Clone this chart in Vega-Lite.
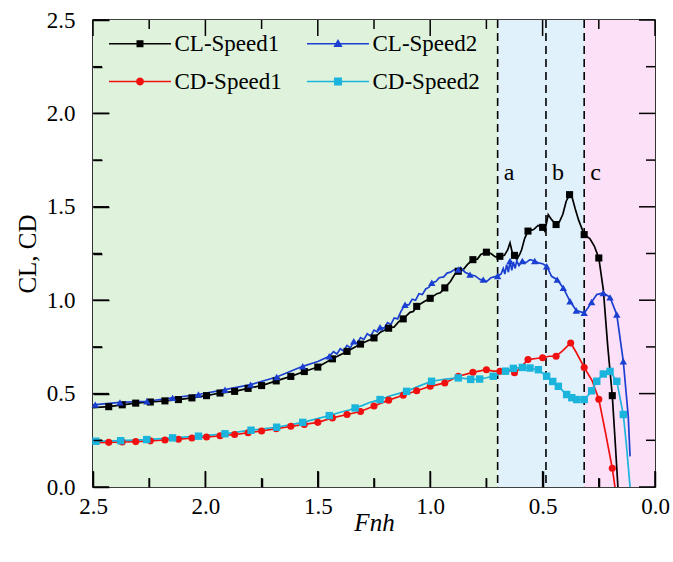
{
  "$schema": "https://vega.github.io/schema/vega-lite/v6.json",
  "width": 562,
  "height": 467,
  "autosize": {"type": "none"},
  "padding": {"left": 93, "top": 20, "right": 18, "bottom": 75},
  "background": "white",
  "config": {
    "view": {"stroke": "#000", "strokeWidth": 1.6},
    "font": "Liberation Serif",
    "axis": {"labelFont": "Liberation Serif", "titleFont": "Liberation Serif", "zindex": 2},
    "legend": {"labelFont": "Liberation Serif"},
    "style": {"guide-label": {"font": "Liberation Serif"}, "guide-title": {"font": "Liberation Serif"}}
  },
  "datasets": {
    "zones": [
      {"from": 2.5, "to": 0.70, "zone": "I"},
      {"from": 0.70, "to": 0.315, "zone": "II"},
      {"from": 0.315, "to": 0.0, "zone": "III"}
    ],
    "bounds": [
      {"x": 0.70, "label": "a"},
      {"x": 0.485, "label": "b"},
      {"x": 0.315, "label": "c"}
    ],
    "ticksMajor": [{"v": 0}, {"v": 0.5}, {"v": 1}, {"v": 1.5}, {"v": 2}, {"v": 2.5}],
    "ticksMinor": [{"v": 0.25}, {"v": 0.75}, {"v": 1.25}, {"v": 1.75}, {"v": 2.25}],
    "curves": [
      {"s":"CL-Speed1","x":2.5,"y":0.425},{"s":"CL-Speed1","x":2.43,"y":0.43},{"s":"CL-Speed1","x":2.37,"y":0.44},{"s":"CL-Speed1","x":2.31,"y":0.449},{"s":"CL-Speed1","x":2.245,"y":0.455},{"s":"CL-Speed1","x":2.18,"y":0.461},{"s":"CL-Speed1","x":2.12,"y":0.468},{"s":"CL-Speed1","x":2.06,"y":0.477},{"s":"CL-Speed1","x":1.995,"y":0.489},{"s":"CL-Speed1","x":1.935,"y":0.503},{"s":"CL-Speed1","x":1.87,"y":0.512},{"s":"CL-Speed1","x":1.81,"y":0.528},{"s":"CL-Speed1","x":1.75,"y":0.543},{"s":"CL-Speed1","x":1.685,"y":0.568},{"s":"CL-Speed1","x":1.62,"y":0.592},{"s":"CL-Speed1","x":1.56,"y":0.618},{"s":"CL-Speed1","x":1.5,"y":0.642},{"s":"CL-Speed1","x":1.435,"y":0.686},{"s":"CL-Speed1","x":1.37,"y":0.726},{"s":"CL-Speed1","x":1.31,"y":0.765},{"s":"CL-Speed1","x":1.25,"y":0.798},{"s":"CL-Speed1","x":1.22,"y":0.83},{"s":"CL-Speed1","x":1.185,"y":0.85},{"s":"CL-Speed1","x":1.16,"y":0.857},{"s":"CL-Speed1","x":1.14,"y":0.885},{"s":"CL-Speed1","x":1.12,"y":0.9},{"s":"CL-Speed1","x":1.09,"y":0.935},{"s":"CL-Speed1","x":1.075,"y":0.94},{"s":"CL-Speed1","x":1.06,"y":0.967},{"s":"CL-Speed1","x":1.03,"y":0.99},{"s":"CL-Speed1","x":1.0,"y":1.01},{"s":"CL-Speed1","x":0.97,"y":1.035},{"s":"CL-Speed1","x":0.955,"y":1.04},{"s":"CL-Speed1","x":0.935,"y":1.066},{"s":"CL-Speed1","x":0.91,"y":1.1},{"s":"CL-Speed1","x":0.89,"y":1.14},{"s":"CL-Speed1","x":0.875,"y":1.155},{"s":"CL-Speed1","x":0.855,"y":1.16},{"s":"CL-Speed1","x":0.835,"y":1.19},{"s":"CL-Speed1","x":0.81,"y":1.217},{"s":"CL-Speed1","x":0.79,"y":1.22},{"s":"CL-Speed1","x":0.775,"y":1.245},{"s":"CL-Speed1","x":0.75,"y":1.257},{"s":"CL-Speed1","x":0.73,"y":1.25},{"s":"CL-Speed1","x":0.71,"y":1.232},{"s":"CL-Speed1","x":0.69,"y":1.235},{"s":"CL-Speed1","x":0.67,"y":1.24},{"s":"CL-Speed1","x":0.655,"y":1.27},{"s":"CL-Speed1","x":0.645,"y":1.307},{"s":"CL-Speed1","x":0.635,"y":1.255},{"s":"CL-Speed1","x":0.625,"y":1.24},{"s":"CL-Speed1","x":0.615,"y":1.217},{"s":"CL-Speed1","x":0.6,"y":1.25},{"s":"CL-Speed1","x":0.593,"y":1.271},{"s":"CL-Speed1","x":0.58,"y":1.33},{"s":"CL-Speed1","x":0.565,"y":1.37},{"s":"CL-Speed1","x":0.54,"y":1.378},{"s":"CL-Speed1","x":0.52,"y":1.4},{"s":"CL-Speed1","x":0.5,"y":1.39},{"s":"CL-Speed1","x":0.49,"y":1.37},{"s":"CL-Speed1","x":0.475,"y":1.458},{"s":"CL-Speed1","x":0.46,"y":1.431},{"s":"CL-Speed1","x":0.44,"y":1.405},{"s":"CL-Speed1","x":0.425,"y":1.42},{"s":"CL-Speed1","x":0.41,"y":1.46},{"s":"CL-Speed1","x":0.395,"y":1.53},{"s":"CL-Speed1","x":0.38,"y":1.565},{"s":"CL-Speed1","x":0.37,"y":1.556},{"s":"CL-Speed1","x":0.355,"y":1.49},{"s":"CL-Speed1","x":0.34,"y":1.43},{"s":"CL-Speed1","x":0.315,"y":1.351},{"s":"CL-Speed1","x":0.29,"y":1.33},{"s":"CL-Speed1","x":0.27,"y":1.29},{"s":"CL-Speed1","x":0.25,"y":1.226},{"s":"CL-Speed1","x":0.23,"y":1.057},{"s":"CL-Speed1","x":0.21,"y":0.75},{"s":"CL-Speed1","x":0.19,"y":0.489},{"s":"CL-Speed1","x":0.178,"y":0.26},{"s":"CL-Speed1","x":0.165,"y":0.0},
      {"s":"CL-Speed2","x":2.5,"y":0.44},{"s":"CL-Speed2","x":2.38,"y":0.453},{"s":"CL-Speed2","x":2.26,"y":0.459},{"s":"CL-Speed2","x":2.146,"y":0.477},{"s":"CL-Speed2","x":2.031,"y":0.495},{"s":"CL-Speed2","x":1.913,"y":0.521},{"s":"CL-Speed2","x":1.799,"y":0.548},{"s":"CL-Speed2","x":1.683,"y":0.589},{"s":"CL-Speed2","x":1.567,"y":0.646},{"s":"CL-Speed2","x":1.5,"y":0.672},{"s":"CL-Speed2","x":1.449,"y":0.7},{"s":"CL-Speed2","x":1.43,"y":0.725},{"s":"CL-Speed2","x":1.415,"y":0.712},{"s":"CL-Speed2","x":1.4,"y":0.74},{"s":"CL-Speed2","x":1.385,"y":0.728},{"s":"CL-Speed2","x":1.37,"y":0.758},{"s":"CL-Speed2","x":1.355,"y":0.745},{"s":"CL-Speed2","x":1.34,"y":0.78},{"s":"CL-Speed2","x":1.325,"y":0.768},{"s":"CL-Speed2","x":1.31,"y":0.8},{"s":"CL-Speed2","x":1.295,"y":0.79},{"s":"CL-Speed2","x":1.28,"y":0.82},{"s":"CL-Speed2","x":1.265,"y":0.808},{"s":"CL-Speed2","x":1.25,"y":0.84},{"s":"CL-Speed2","x":1.235,"y":0.83},{"s":"CL-Speed2","x":1.223,"y":0.855},{"s":"CL-Speed2","x":1.205,"y":0.85},{"s":"CL-Speed2","x":1.19,"y":0.88},{"s":"CL-Speed2","x":1.175,"y":0.87},{"s":"CL-Speed2","x":1.16,"y":0.905},{"s":"CL-Speed2","x":1.145,"y":0.9},{"s":"CL-Speed2","x":1.13,"y":0.94},{"s":"CL-Speed2","x":1.112,"y":0.976},{"s":"CL-Speed2","x":1.095,"y":0.975},{"s":"CL-Speed2","x":1.08,"y":1.005},{"s":"CL-Speed2","x":1.065,"y":1.0},{"s":"CL-Speed2","x":1.05,"y":1.035},{"s":"CL-Speed2","x":1.035,"y":1.03},{"s":"CL-Speed2","x":1.02,"y":1.06},{"s":"CL-Speed2","x":1.005,"y":1.07},{"s":"CL-Speed2","x":0.993,"y":1.093},{"s":"CL-Speed2","x":0.975,"y":1.1},{"s":"CL-Speed2","x":0.96,"y":1.12},{"s":"CL-Speed2","x":0.94,"y":1.125},{"s":"CL-Speed2","x":0.925,"y":1.145},{"s":"CL-Speed2","x":0.91,"y":1.15},{"s":"CL-Speed2","x":0.89,"y":1.165},{"s":"CL-Speed2","x":0.875,"y":1.164},{"s":"CL-Speed2","x":0.865,"y":1.175},{"s":"CL-Speed2","x":0.845,"y":1.15},{"s":"CL-Speed2","x":0.823,"y":1.137},{"s":"CL-Speed2","x":0.8,"y":1.13},{"s":"CL-Speed2","x":0.778,"y":1.11},{"s":"CL-Speed2","x":0.764,"y":1.11},{"s":"CL-Speed2","x":0.749,"y":1.1},{"s":"CL-Speed2","x":0.73,"y":1.12},{"s":"CL-Speed2","x":0.715,"y":1.125},{"s":"CL-Speed2","x":0.7,"y":1.13},{"s":"CL-Speed2","x":0.685,"y":1.14},{"s":"CL-Speed2","x":0.675,"y":1.17},{"s":"CL-Speed2","x":0.668,"y":1.14},{"s":"CL-Speed2","x":0.66,"y":1.19},{"s":"CL-Speed2","x":0.652,"y":1.15},{"s":"CL-Speed2","x":0.645,"y":1.21},{"s":"CL-Speed2","x":0.637,"y":1.16},{"s":"CL-Speed2","x":0.63,"y":1.205},{"s":"CL-Speed2","x":0.622,"y":1.17},{"s":"CL-Speed2","x":0.615,"y":1.21},{"s":"CL-Speed2","x":0.605,"y":1.185},{"s":"CL-Speed2","x":0.59,"y":1.21},{"s":"CL-Speed2","x":0.575,"y":1.2},{"s":"CL-Speed2","x":0.556,"y":1.217},{"s":"CL-Speed2","x":0.535,"y":1.21},{"s":"CL-Speed2","x":0.519,"y":1.2},{"s":"CL-Speed2","x":0.5,"y":1.195},{"s":"CL-Speed2","x":0.482,"y":1.182},{"s":"CL-Speed2","x":0.46,"y":1.128},{"s":"CL-Speed2","x":0.435,"y":1.11},{"s":"CL-Speed2","x":0.408,"y":1.066},{"s":"CL-Speed2","x":0.378,"y":0.994},{"s":"CL-Speed2","x":0.35,"y":0.945},{"s":"CL-Speed2","x":0.315,"y":0.932},{"s":"CL-Speed2","x":0.298,"y":0.96},{"s":"CL-Speed2","x":0.282,"y":0.99},{"s":"CL-Speed2","x":0.259,"y":1.03},{"s":"CL-Speed2","x":0.23,"y":1.039},{"s":"CL-Speed2","x":0.2,"y":1.015},{"s":"CL-Speed2","x":0.17,"y":0.923},{"s":"CL-Speed2","x":0.141,"y":0.673},{"s":"CL-Speed2","x":0.119,"y":0.378},{"s":"CL-Speed2","x":0.111,"y":0.164},
      {"s":"CD-Speed1","x":2.5,"y":0.238},{"s":"CD-Speed1","x":2.43,"y":0.239},{"s":"CD-Speed1","x":2.37,"y":0.241},{"s":"CD-Speed1","x":2.31,"y":0.243},{"s":"CD-Speed1","x":2.245,"y":0.247},{"s":"CD-Speed1","x":2.18,"y":0.252},{"s":"CD-Speed1","x":2.12,"y":0.256},{"s":"CD-Speed1","x":2.06,"y":0.262},{"s":"CD-Speed1","x":1.995,"y":0.268},{"s":"CD-Speed1","x":1.935,"y":0.274},{"s":"CD-Speed1","x":1.87,"y":0.281},{"s":"CD-Speed1","x":1.81,"y":0.29},{"s":"CD-Speed1","x":1.75,"y":0.3},{"s":"CD-Speed1","x":1.685,"y":0.312},{"s":"CD-Speed1","x":1.62,"y":0.325},{"s":"CD-Speed1","x":1.56,"y":0.335},{"s":"CD-Speed1","x":1.5,"y":0.346},{"s":"CD-Speed1","x":1.435,"y":0.37},{"s":"CD-Speed1","x":1.37,"y":0.388},{"s":"CD-Speed1","x":1.31,"y":0.404},{"s":"CD-Speed1","x":1.25,"y":0.434},{"s":"CD-Speed1","x":1.185,"y":0.465},{"s":"CD-Speed1","x":1.12,"y":0.491},{"s":"CD-Speed1","x":1.06,"y":0.515},{"s":"CD-Speed1","x":1.0,"y":0.539},{"s":"CD-Speed1","x":0.935,"y":0.557},{"s":"CD-Speed1","x":0.875,"y":0.593},{"s":"CD-Speed1","x":0.81,"y":0.614},{"s":"CD-Speed1","x":0.75,"y":0.628},{"s":"CD-Speed1","x":0.72,"y":0.62},{"s":"CD-Speed1","x":0.69,"y":0.62},{"s":"CD-Speed1","x":0.66,"y":0.625},{"s":"CD-Speed1","x":0.64,"y":0.62},{"s":"CD-Speed1","x":0.625,"y":0.612},{"s":"CD-Speed1","x":0.61,"y":0.625},{"s":"CD-Speed1","x":0.59,"y":0.65},{"s":"CD-Speed1","x":0.565,"y":0.682},{"s":"CD-Speed1","x":0.53,"y":0.688},{"s":"CD-Speed1","x":0.5,"y":0.692},{"s":"CD-Speed1","x":0.47,"y":0.7},{"s":"CD-Speed1","x":0.44,"y":0.7},{"s":"CD-Speed1","x":0.41,"y":0.73},{"s":"CD-Speed1","x":0.375,"y":0.771},{"s":"CD-Speed1","x":0.35,"y":0.72},{"s":"CD-Speed1","x":0.315,"y":0.64},{"s":"CD-Speed1","x":0.28,"y":0.57},{"s":"CD-Speed1","x":0.25,"y":0.47},{"s":"CD-Speed1","x":0.22,"y":0.29},{"s":"CD-Speed1","x":0.19,"y":0.1},{"s":"CD-Speed1","x":0.178,"y":0.0},
      {"s":"CD-Speed2","x":2.5,"y":0.245},{"s":"CD-Speed2","x":2.487,"y":0.245},{"s":"CD-Speed2","x":2.377,"y":0.248},{"s":"CD-Speed2","x":2.261,"y":0.254},{"s":"CD-Speed2","x":2.146,"y":0.263},{"s":"CD-Speed2","x":2.031,"y":0.272},{"s":"CD-Speed2","x":1.913,"y":0.285},{"s":"CD-Speed2","x":1.797,"y":0.304},{"s":"CD-Speed2","x":1.683,"y":0.32},{"s":"CD-Speed2","x":1.567,"y":0.346},{"s":"CD-Speed2","x":1.449,"y":0.382},{"s":"CD-Speed2","x":1.4,"y":0.4},{"s":"CD-Speed2","x":1.36,"y":0.412},{"s":"CD-Speed2","x":1.334,"y":0.423},{"s":"CD-Speed2","x":1.3,"y":0.437},{"s":"CD-Speed2","x":1.27,"y":0.452},{"s":"CD-Speed2","x":1.223,"y":0.468},{"s":"CD-Speed2","x":1.18,"y":0.487},{"s":"CD-Speed2","x":1.15,"y":0.497},{"s":"CD-Speed2","x":1.105,"y":0.512},{"s":"CD-Speed2","x":1.05,"y":0.54},{"s":"CD-Speed2","x":0.994,"y":0.566},{"s":"CD-Speed2","x":0.93,"y":0.578},{"s":"CD-Speed2","x":0.875,"y":0.584},{"s":"CD-Speed2","x":0.84,"y":0.58},{"s":"CD-Speed2","x":0.82,"y":0.576},{"s":"CD-Speed2","x":0.78,"y":0.578},{"s":"CD-Speed2","x":0.75,"y":0.585},{"s":"CD-Speed2","x":0.72,"y":0.593},{"s":"CD-Speed2","x":0.7,"y":0.6},{"s":"CD-Speed2","x":0.665,"y":0.62},{"s":"CD-Speed2","x":0.63,"y":0.635},{"s":"CD-Speed2","x":0.59,"y":0.64},{"s":"CD-Speed2","x":0.556,"y":0.637},{"s":"CD-Speed2","x":0.519,"y":0.628},{"s":"CD-Speed2","x":0.482,"y":0.593},{"s":"CD-Speed2","x":0.455,"y":0.565},{"s":"CD-Speed2","x":0.43,"y":0.539},{"s":"CD-Speed2","x":0.41,"y":0.515},{"s":"CD-Speed2","x":0.393,"y":0.495},{"s":"CD-Speed2","x":0.37,"y":0.478},{"s":"CD-Speed2","x":0.348,"y":0.468},{"s":"CD-Speed2","x":0.315,"y":0.468},{"s":"CD-Speed2","x":0.298,"y":0.49},{"s":"CD-Speed2","x":0.282,"y":0.515},{"s":"CD-Speed2","x":0.259,"y":0.566},{"s":"CD-Speed2","x":0.23,"y":0.605},{"s":"CD-Speed2","x":0.2,"y":0.619},{"s":"CD-Speed2","x":0.17,"y":0.566},{"s":"CD-Speed2","x":0.141,"y":0.388},{"s":"CD-Speed2","x":0.126,"y":0.21},{"s":"CD-Speed2","x":0.111,"y":0.0}
    ],
    "markers": [
      {"s":"CL-Speed1","x":2.43,"y":0.43},{"s":"CL-Speed1","x":2.37,"y":0.44},{"s":"CL-Speed1","x":2.31,"y":0.449},{"s":"CL-Speed1","x":2.245,"y":0.455},{"s":"CL-Speed1","x":2.18,"y":0.461},{"s":"CL-Speed1","x":2.12,"y":0.468},{"s":"CL-Speed1","x":2.06,"y":0.477},{"s":"CL-Speed1","x":1.995,"y":0.489},{"s":"CL-Speed1","x":1.935,"y":0.503},{"s":"CL-Speed1","x":1.87,"y":0.512},{"s":"CL-Speed1","x":1.81,"y":0.528},{"s":"CL-Speed1","x":1.75,"y":0.543},{"s":"CL-Speed1","x":1.685,"y":0.568},{"s":"CL-Speed1","x":1.62,"y":0.592},{"s":"CL-Speed1","x":1.56,"y":0.618},{"s":"CL-Speed1","x":1.5,"y":0.642},{"s":"CL-Speed1","x":1.435,"y":0.686},{"s":"CL-Speed1","x":1.37,"y":0.726},{"s":"CL-Speed1","x":1.31,"y":0.765},{"s":"CL-Speed1","x":1.25,"y":0.798},{"s":"CL-Speed1","x":1.185,"y":0.85},{"s":"CL-Speed1","x":1.12,"y":0.9},{"s":"CL-Speed1","x":1.06,"y":0.967},{"s":"CL-Speed1","x":1.0,"y":1.01},{"s":"CL-Speed1","x":0.935,"y":1.066},{"s":"CL-Speed1","x":0.875,"y":1.155},{"s":"CL-Speed1","x":0.81,"y":1.217},{"s":"CL-Speed1","x":0.75,"y":1.257},{"s":"CL-Speed1","x":0.69,"y":1.235},{"s":"CL-Speed1","x":0.625,"y":1.24},{"s":"CL-Speed1","x":0.565,"y":1.37},{"s":"CL-Speed1","x":0.5,"y":1.39},{"s":"CL-Speed1","x":0.44,"y":1.405},{"s":"CL-Speed1","x":0.38,"y":1.565},{"s":"CL-Speed1","x":0.315,"y":1.351},{"s":"CL-Speed1","x":0.25,"y":1.226},{"s":"CL-Speed1","x":0.19,"y":0.489},
      {"s":"CL-Speed2","x":2.49,"y":0.441},{"s":"CL-Speed2","x":2.38,"y":0.453},{"s":"CL-Speed2","x":2.26,"y":0.459},{"s":"CL-Speed2","x":2.146,"y":0.477},{"s":"CL-Speed2","x":2.031,"y":0.495},{"s":"CL-Speed2","x":1.913,"y":0.521},{"s":"CL-Speed2","x":1.799,"y":0.548},{"s":"CL-Speed2","x":1.683,"y":0.589},{"s":"CL-Speed2","x":1.567,"y":0.646},{"s":"CL-Speed2","x":1.449,"y":0.7},{"s":"CL-Speed2","x":1.34,"y":0.78},{"s":"CL-Speed2","x":1.223,"y":0.855},{"s":"CL-Speed2","x":1.112,"y":0.976},{"s":"CL-Speed2","x":0.993,"y":1.093},{"s":"CL-Speed2","x":0.875,"y":1.164},{"s":"CL-Speed2","x":0.823,"y":1.137},{"s":"CL-Speed2","x":0.764,"y":1.11},{"s":"CL-Speed2","x":0.7,"y":1.13},{"s":"CL-Speed2","x":0.645,"y":1.21},{"s":"CL-Speed2","x":0.59,"y":1.21},{"s":"CL-Speed2","x":0.535,"y":1.21},{"s":"CL-Speed2","x":0.482,"y":1.182},{"s":"CL-Speed2","x":0.435,"y":1.11},{"s":"CL-Speed2","x":0.408,"y":1.066},{"s":"CL-Speed2","x":0.378,"y":0.994},{"s":"CL-Speed2","x":0.35,"y":0.945},{"s":"CL-Speed2","x":0.315,"y":0.932},{"s":"CL-Speed2","x":0.282,"y":0.99},{"s":"CL-Speed2","x":0.23,"y":1.039},{"s":"CL-Speed2","x":0.2,"y":1.015},{"s":"CL-Speed2","x":0.17,"y":0.923},{"s":"CL-Speed2","x":0.141,"y":0.673},
      {"s":"CD-Speed1","x":2.43,"y":0.239},{"s":"CD-Speed1","x":2.37,"y":0.241},{"s":"CD-Speed1","x":2.31,"y":0.243},{"s":"CD-Speed1","x":2.245,"y":0.247},{"s":"CD-Speed1","x":2.18,"y":0.252},{"s":"CD-Speed1","x":2.12,"y":0.256},{"s":"CD-Speed1","x":2.06,"y":0.262},{"s":"CD-Speed1","x":1.995,"y":0.268},{"s":"CD-Speed1","x":1.935,"y":0.274},{"s":"CD-Speed1","x":1.87,"y":0.281},{"s":"CD-Speed1","x":1.81,"y":0.29},{"s":"CD-Speed1","x":1.75,"y":0.3},{"s":"CD-Speed1","x":1.685,"y":0.312},{"s":"CD-Speed1","x":1.62,"y":0.325},{"s":"CD-Speed1","x":1.56,"y":0.335},{"s":"CD-Speed1","x":1.5,"y":0.346},{"s":"CD-Speed1","x":1.435,"y":0.37},{"s":"CD-Speed1","x":1.37,"y":0.388},{"s":"CD-Speed1","x":1.31,"y":0.404},{"s":"CD-Speed1","x":1.25,"y":0.434},{"s":"CD-Speed1","x":1.185,"y":0.465},{"s":"CD-Speed1","x":1.12,"y":0.491},{"s":"CD-Speed1","x":1.06,"y":0.515},{"s":"CD-Speed1","x":1.0,"y":0.539},{"s":"CD-Speed1","x":0.935,"y":0.557},{"s":"CD-Speed1","x":0.875,"y":0.593},{"s":"CD-Speed1","x":0.81,"y":0.614},{"s":"CD-Speed1","x":0.75,"y":0.628},{"s":"CD-Speed1","x":0.69,"y":0.62},{"s":"CD-Speed1","x":0.625,"y":0.612},{"s":"CD-Speed1","x":0.565,"y":0.682},{"s":"CD-Speed1","x":0.5,"y":0.692},{"s":"CD-Speed1","x":0.44,"y":0.7},{"s":"CD-Speed1","x":0.375,"y":0.771},{"s":"CD-Speed1","x":0.315,"y":0.64},{"s":"CD-Speed1","x":0.25,"y":0.47},{"s":"CD-Speed1","x":0.19,"y":0.1},
      {"s":"CD-Speed2","x":2.487,"y":0.245},{"s":"CD-Speed2","x":2.377,"y":0.248},{"s":"CD-Speed2","x":2.261,"y":0.254},{"s":"CD-Speed2","x":2.146,"y":0.263},{"s":"CD-Speed2","x":2.031,"y":0.272},{"s":"CD-Speed2","x":1.913,"y":0.285},{"s":"CD-Speed2","x":1.797,"y":0.304},{"s":"CD-Speed2","x":1.683,"y":0.32},{"s":"CD-Speed2","x":1.567,"y":0.346},{"s":"CD-Speed2","x":1.449,"y":0.382},{"s":"CD-Speed2","x":1.334,"y":0.423},{"s":"CD-Speed2","x":1.223,"y":0.468},{"s":"CD-Speed2","x":1.105,"y":0.512},{"s":"CD-Speed2","x":0.994,"y":0.566},{"s":"CD-Speed2","x":0.875,"y":0.584},{"s":"CD-Speed2","x":0.82,"y":0.576},{"s":"CD-Speed2","x":0.78,"y":0.578},{"s":"CD-Speed2","x":0.72,"y":0.593},{"s":"CD-Speed2","x":0.665,"y":0.62},{"s":"CD-Speed2","x":0.63,"y":0.635},{"s":"CD-Speed2","x":0.59,"y":0.64},{"s":"CD-Speed2","x":0.556,"y":0.637},{"s":"CD-Speed2","x":0.519,"y":0.628},{"s":"CD-Speed2","x":0.482,"y":0.593},{"s":"CD-Speed2","x":0.455,"y":0.565},{"s":"CD-Speed2","x":0.43,"y":0.539},{"s":"CD-Speed2","x":0.393,"y":0.495},{"s":"CD-Speed2","x":0.37,"y":0.478},{"s":"CD-Speed2","x":0.348,"y":0.468},{"s":"CD-Speed2","x":0.315,"y":0.468},{"s":"CD-Speed2","x":0.282,"y":0.515},{"s":"CD-Speed2","x":0.259,"y":0.566},{"s":"CD-Speed2","x":0.23,"y":0.605},{"s":"CD-Speed2","x":0.2,"y":0.619},{"s":"CD-Speed2","x":0.17,"y":0.566},{"s":"CD-Speed2","x":0.141,"y":0.388}
    ]
  },
  "resolve": {"axis": {"x": "independent", "y": "independent"}},
  "layer": [
    {
      "data": {"name": "zones"},
      "mark": {"type": "rect"},
      "encoding": {
        "x": {"field": "from", "type": "quantitative",
          "scale": {"domain": [0, 2.5], "reverse": true, "nice": false, "zero": false}, "axis": null},
        "x2": {"field": "to"},
        "y": {"datum": 0, "type": "quantitative",
          "scale": {"domain": [0, 2.5], "nice": false, "zero": false}, "axis": null},
        "y2": {"datum": 2.5},
        "fill": {"field": "zone", "type": "nominal",
          "scale": {"domain": ["I", "II", "III"], "range": ["#dff3dc", "#e0f1fb", "#fce0f8"]}, "legend": null}
      }
    },
    {"data": {"name": "ticksMajor"}, "mark": {"type": "rule", "color": "black", "strokeWidth": 1.5},
     "encoding": {"x": {"field": "v", "type": "quantitative", "axis": null}, "y": {"datum": 0, "type": "quantitative", "axis": null}, "y2": {"datum": 0.0857}}},
    {"data": {"name": "ticksMinor"}, "mark": {"type": "rule", "color": "black", "strokeWidth": 1.5},
     "encoding": {"x": {"field": "v", "type": "quantitative", "axis": null}, "y": {"datum": 0, "type": "quantitative", "axis": null}, "y2": {"datum": 0.0482}}},
    {"data": {"name": "ticksMajor"}, "mark": {"type": "rule", "color": "black", "strokeWidth": 1.5},
     "encoding": {"x": {"field": "v", "type": "quantitative", "axis": null}, "y": {"datum": 2.5, "type": "quantitative", "axis": null}, "y2": {"datum": 2.4143}}},
    {"data": {"name": "ticksMinor"}, "mark": {"type": "rule", "color": "black", "strokeWidth": 1.5},
     "encoding": {"x": {"field": "v", "type": "quantitative", "axis": null}, "y": {"datum": 2.5, "type": "quantitative", "axis": null}, "y2": {"datum": 2.4518}}},
    {"data": {"name": "ticksMajor"}, "mark": {"type": "rule", "color": "black", "strokeWidth": 1.5},
     "encoding": {"y": {"field": "v", "type": "quantitative", "axis": null}, "x": {"datum": 2.5, "type": "quantitative", "axis": null}, "x2": {"datum": 2.4288}}},
    {"data": {"name": "ticksMinor"}, "mark": {"type": "rule", "color": "black", "strokeWidth": 1.5},
     "encoding": {"y": {"field": "v", "type": "quantitative", "axis": null}, "x": {"datum": 2.5, "type": "quantitative", "axis": null}, "x2": {"datum": 2.46}}},
    {"data": {"name": "ticksMajor"}, "mark": {"type": "rule", "color": "black", "strokeWidth": 1.5},
     "encoding": {"y": {"field": "v", "type": "quantitative", "axis": null}, "x": {"datum": 0, "type": "quantitative", "axis": null}, "x2": {"datum": 0.0712}}},
    {"data": {"name": "ticksMinor"}, "mark": {"type": "rule", "color": "black", "strokeWidth": 1.5},
     "encoding": {"y": {"field": "v", "type": "quantitative", "axis": null}, "x": {"datum": 0, "type": "quantitative", "axis": null}, "x2": {"datum": 0.04}}},
    {
      "data": {"name": "bounds"},
      "mark": {"type": "rule", "strokeDash": [8, 5], "strokeWidth": 1.6, "color": "black"},
      "encoding": {
        "x": {"field": "x", "type": "quantitative",
          "axis": {"orient": "bottom", "title": "Fnh", "zindex": 2, "values": [0,0.25,0.5,0.75,1,1.25,1.5,1.75,2,2.25,2.5],
            "labelExpr": "round(datum.value*4) % 2 === 0 ? format(datum.value, '.1f') : ''",
            "tickSize": {"condition": {"test": "round(datum.value*4) % 2 === 0", "value": -16}, "value": -9},
            "tickColor": "black", "tickWidth": 1.5, "domain": false, "grid": false,
            "labelFont": "Liberation Serif", "labelFontSize": 23, "labelColor": "black", "labelPadding": 24, "labelFlush": false,
            "titleFont": "Liberation Serif", "titleFontSize": 25, "titleFontStyle": "italic", "titleFontWeight": "normal", "titleColor": "black", "titlePadding": -8}}
      }
    },
    {
      "data": {"name": "bounds"},
      "mark": {"type": "text", "align": "left", "baseline": "middle", "dx": 6, "font": "Liberation Serif", "fontSize": 24, "color": "black"},
      "encoding": {
        "x": {"field": "x", "type": "quantitative", "axis": null},
        "y": {"datum": 1.68, "type": "quantitative",
          "axis": {"orient": "left", "title": "CL, CD", "zindex": 2, "values": [0,0.25,0.5,0.75,1,1.25,1.5,1.75,2,2.25,2.5],
            "labelExpr": "round(datum.value*4) % 2 === 0 ? format(datum.value, '.1f') : ''",
            "tickSize": {"condition": {"test": "round(datum.value*4) % 2 === 0", "value": -16}, "value": -9},
            "tickColor": "black", "tickWidth": 1.5, "domain": false, "grid": false,
            "labelFont": "Liberation Serif", "labelFontSize": 23, "labelColor": "black", "labelPadding": 34, "labelFlush": false,
            "titleFont": "Liberation Serif", "titleFontSize": 25, "titleFontWeight": "normal", "titleColor": "black", "titlePadding": 6}},
        "text": {"field": "label"}
      }
    },
    {
      "data": {"name": "curves"},
      "transform": [{"filter": "datum.s === 'CL-Speed1'"}],
      "mark": {"type": "line", "strokeWidth": 1.7, "color": "#000000"},
      "encoding": {"x": {"field": "x", "type": "quantitative", "axis": null}, "y": {"field": "y", "type": "quantitative", "axis": null}}
    },
    {
      "data": {"name": "curves"},
      "transform": [{"filter": "datum.s === 'CD-Speed1'"}],
      "mark": {"type": "line", "strokeWidth": 1.7, "color": "#f01010"},
      "encoding": {"x": {"field": "x", "type": "quantitative", "axis": null}, "y": {"field": "y", "type": "quantitative", "axis": null}}
    },
    {
      "data": {"name": "curves"},
      "transform": [{"filter": "datum.s === 'CL-Speed2'"}],
      "mark": {"type": "line", "strokeWidth": 1.7, "color": "#1b3fd0"},
      "encoding": {"x": {"field": "x", "type": "quantitative", "axis": null}, "y": {"field": "y", "type": "quantitative", "axis": null}}
    },
    {
      "data": {"name": "curves"},
      "transform": [{"filter": "datum.s === 'CD-Speed2'"}],
      "mark": {"type": "line", "strokeWidth": 1.7, "color": "#1ab4dc"},
      "encoding": {"x": {"field": "x", "type": "quantitative", "axis": null}, "y": {"field": "y", "type": "quantitative", "axis": null}}
    },
    {
      "data": {"name": "markers"},
      "transform": [{"filter": "datum.s === 'CL-Speed1'"}],
      "mark": {"type": "point", "filled": true, "shape": "square", "size": 50, "opacity": 1, "color": "#000000"},
      "encoding": {"x": {"field": "x", "type": "quantitative", "axis": null}, "y": {"field": "y", "type": "quantitative", "axis": null}}
    },
    {
      "data": {"name": "markers"},
      "transform": [{"filter": "datum.s === 'CD-Speed1'"}],
      "mark": {"type": "point", "filled": true, "shape": "circle", "size": 50, "opacity": 1, "color": "#f01010"},
      "encoding": {"x": {"field": "x", "type": "quantitative", "axis": null}, "y": {"field": "y", "type": "quantitative", "axis": null}}
    },
    {
      "data": {"name": "markers"},
      "transform": [{"filter": "datum.s === 'CL-Speed2'"}],
      "mark": {"type": "point", "filled": true, "shape": "triangle-up", "size": 55, "opacity": 1, "color": "#1b3fd0"},
      "encoding": {"x": {"field": "x", "type": "quantitative", "axis": null}, "y": {"field": "y", "type": "quantitative", "axis": null}}
    },
    {
      "data": {"name": "markers"},
      "transform": [{"filter": "datum.s === 'CD-Speed2'"}],
      "mark": {"type": "point", "filled": true, "shape": "square", "size": 55, "opacity": 1, "color": "#1ab4dc"},
      "encoding": {"x": {"field": "x", "type": "quantitative", "axis": null}, "y": {"field": "y", "type": "quantitative", "axis": null}}
    },
    {
      "data": {"name": "markers"},
      "mark": {"type": "point", "filled": true, "size": 50, "opacity": 0},
      "encoding": {
        "x": {"field": "x", "type": "quantitative", "axis": null},
        "y": {"field": "y", "type": "quantitative", "axis": null},
        "shape": {"field": "s", "type": "nominal",
          "scale": {"domain": ["CL-Speed1", "CL-Speed2", "CD-Speed1", "CD-Speed2"],
            "range": [
              "M-4,-0.1H4V0.1H-4ZM-0.45,-0.45H0.45V0.45H-0.45Z",
              "M-4,-0.1H4V0.1H-4ZM0,-0.62L0.6,0.42H-0.6Z",
              "M-4,-0.1H4V0.1H-4ZM0.52,0L0.45,0.26L0.26,0.45L0,0.52L-0.26,0.45L-0.45,0.26L-0.52,0L-0.45,-0.26L-0.26,-0.45L0,-0.52L0.26,-0.45L0.45,-0.26Z",
              "M-4,-0.1H4V0.1H-4ZM-0.52,-0.52H0.52V0.52H-0.52Z"
            ]},
          "legend": null},
        "color": {"field": "s", "type": "nominal",
          "scale": {"domain": ["CL-Speed1", "CL-Speed2", "CD-Speed1", "CD-Speed2"], "range": ["#000000", "#1b3fd0", "#f01010", "#1ab4dc"]},
          "legend": {"orient": "none", "legendX": 15, "legendY": 12, "direction": "horizontal", "columns": 2, "columnPadding": 24, "rowPadding": 14,
            "title": null, "symbolSize": 240, "symbolOffset": 20.5, "labelOffset": 23, "symbolOpacity": 1,
            "labelFont": "Liberation Serif", "labelFontSize": 23, "labelColor": "black", "labelLimit": 300}
        }
      }
    }
  ]
}
